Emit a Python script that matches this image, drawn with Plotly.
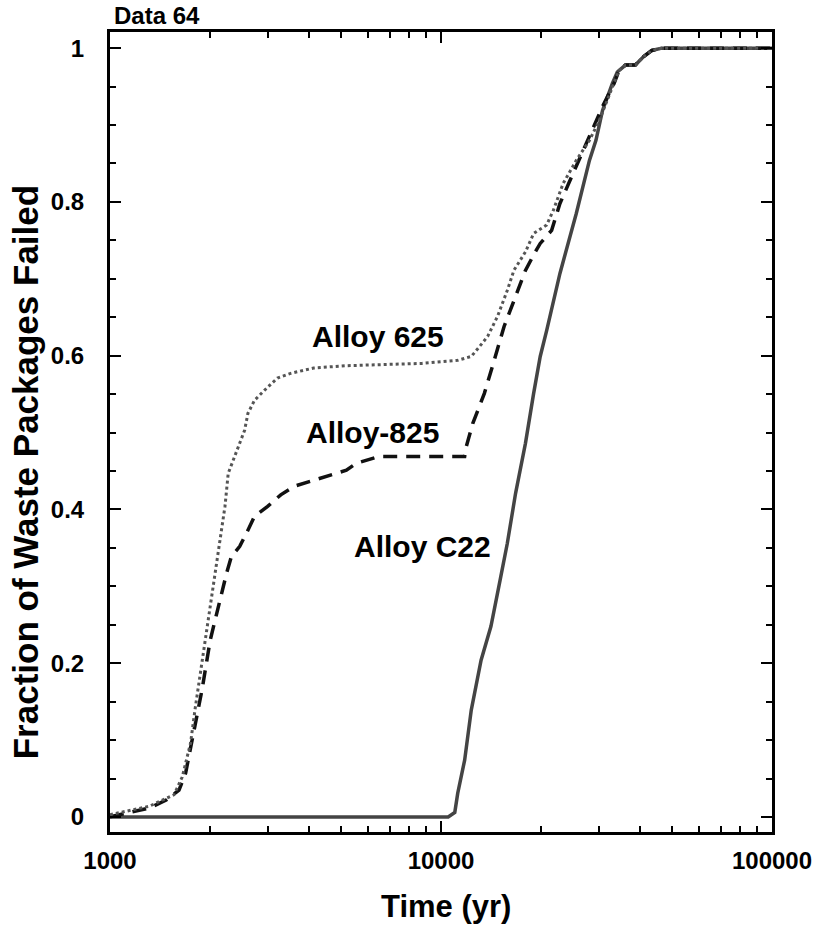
import plotly.graph_objects as go

# ---- data ----
t_625 = [1000, 1147, 1315, 1409, 1561, 1653, 1751, 1811, 1875, 1941, 2008, 2078, 2150, 2225,
         2276, 2355, 2437, 2551, 2610, 2733, 2928, 3206, 3512, 4123, 5179, 8762, 11236, 12343,
         12912, 13831, 14812, 15863, 16604, 17993, 19049, 20861, 21842, 23388, 25627, 28082,
         30078, 31466, 33330, 34493, 36089, 38661, 40947, 43355, 46416, 100000]
f_625 = [0.003, 0.009, 0.014, 0.020, 0.029, 0.052, 0.096, 0.143, 0.187, 0.230, 0.274, 0.317, 0.360, 0.404,
         0.447, 0.464, 0.482, 0.503, 0.525, 0.542, 0.555, 0.571, 0.577, 0.584, 0.587, 0.590, 0.594, 0.599,
         0.609, 0.625, 0.651, 0.685, 0.711, 0.735, 0.759, 0.770, 0.789, 0.824, 0.854, 0.880,
         0.906, 0.928, 0.954, 0.971, 0.978, 0.978, 0.989, 0.997, 1.0, 1.0]

t_825 = [1000, 1147, 1315, 1478, 1616, 1692, 1770, 1896, 2008, 2125, 2250, 2328, 2466, 2610,
         2733, 2994, 3280, 3594, 3984, 5179, 5546, 6508, 11788, 11927, 12478, 13521, 14481, 15509,
         16800, 17993, 19270, 19942, 21589, 22873, 25052, 27436, 30764, 33330, 34493, 36089,
         38661, 40947, 43355, 46416, 100000]
f_825 = [0.0004, 0.0065, 0.0117, 0.022, 0.035, 0.057, 0.100, 0.165, 0.230, 0.274, 0.317, 0.339, 0.352, 0.373,
         0.391, 0.404, 0.419, 0.430, 0.436, 0.451, 0.460, 0.469, 0.469, 0.482, 0.512, 0.551, 0.594, 0.638,
         0.677, 0.711, 0.735, 0.746, 0.763, 0.798, 0.837, 0.876, 0.924, 0.954, 0.971, 0.978,
         0.978, 0.989, 0.997, 1.0, 1.0]

t_c22 = [1000, 10512, 11007, 11236, 11788, 12343, 13216, 14156, 15163, 15863, 16800, 17993,
         19049, 19942, 20861, 22873, 25627, 28082, 29385, 30764, 32946, 34093, 36089, 38661,
         40947, 43355, 46416, 100000]
f_c22 = [0.0, 0.0, 0.006, 0.031, 0.074, 0.139, 0.204, 0.248, 0.313, 0.356, 0.421, 0.486,
         0.551, 0.599, 0.633, 0.707, 0.785, 0.854, 0.880, 0.919, 0.954, 0.969, 0.978, 0.978,
         0.989, 0.997, 1.0, 1.0]

x_tickvals = [1000, 10000, 100000]
x_ticktext = ["1000", "10000", "100000"]
y_tickvals = [0, 0.2, 0.4, 0.6, 0.8, 1.0]
y_ticktext = ["0", "0.2", "0.4", "0.6", "0.8", "1"]

labels = ["Alloy 625", "Alloy-825", "Alloy C22"]

FONT = "Liberation Sans, Arial, Helvetica, sans-serif"

W, H = 824, 928
L, R, T, B = 110, 782, 32, 832


def px(x):
    return (x - L) / (R - L)


def py(y):
    return (B - y) / (B - T)


fig = go.Figure()
fig.add_trace(go.Scatter(x=t_c22, y=f_c22, mode="lines", name=labels[2],
                         line=dict(color="#444444", width=3.5)))
fig.add_trace(go.Scatter(x=t_825, y=f_825, mode="lines", name=labels[1],
                         line=dict(color="#111111", width=3.5, dash="14px,9px")))
fig.add_trace(go.Scatter(x=t_625, y=f_625, mode="lines", name=labels[0],
                         line=dict(color="#555555", width=3, dash="3px,3px")))

axis_common = dict(showline=True, linecolor="black", linewidth=3, mirror="allticks",
                   ticks="inside", ticklen=11, tickwidth=2, tickcolor="black",
                   showgrid=False, zeroline=False,
                   tickfont=dict(family=FONT, size=24, color="black", weight="bold"))

fig.update_xaxes(type="log", range=[3, 5], tickmode="array", tickvals=x_tickvals,
                 ticktext=x_ticktext, ticklabelstandoff=5,
                 minor=dict(ticks="inside", ticklen=6, tickwidth=2, tickcolor="black",
                            dtick="D1", showgrid=False),
                 **axis_common)
fig.update_yaxes(range=[-0.0195, 1.021], tickmode="array", tickvals=y_tickvals,
                 ticktext=y_ticktext, ticklabelstandoff=18,
                 minor=dict(ticks="inside", ticklen=6, tickwidth=2, tickcolor="black",
                            dtick=0.05, tick0=0, showgrid=False),
                 **axis_common)

ann_font = dict(family=FONT, size=30, color="black", weight="bold")
annotations = [
    dict(text="Alloy 625", x=px(382), y=py(336)),
    dict(text="Alloy-825", x=px(376), y=py(432)),
    dict(text="Alloy C22", x=px(427), y=py(546)),
]
for a in annotations:
    fig.add_annotation(xref="paper", yref="paper", xanchor="center", yanchor="middle",
                       showarrow=False, font=ann_font, **a)

fig.add_annotation(text="Data 64", xref="paper", yref="paper", x=px(112), y=py(31),
                   xanchor="left", yanchor="bottom", showarrow=False,
                   font=dict(family=FONT, size=24, color="black", weight="bold"))
fig.add_annotation(text="Time (yr)", xref="paper", yref="paper", x=px(451), y=py(906),
                   xanchor="center", yanchor="middle", showarrow=False,
                   font=dict(family=FONT, size=31, color="black", weight="bold"))
fig.add_annotation(text="Fraction of Waste Packages Failed", xref="paper", yref="paper",
                   x=px(24), y=py(472), xanchor="center", yanchor="middle", textangle=-90,
                   showarrow=False,
                   font=dict(family=FONT, size=35, color="black", weight="bold"))

fig.update_layout(width=W, height=H, margin=dict(l=L, r=W - R, t=T, b=H - B),
                  paper_bgcolor="white", plot_bgcolor="white", showlegend=False)

fig.write_html("out.html", config={"displayModeBar": False},
               post_script="document.body.style.margin='0';document.body.style.overflow='hidden';")
